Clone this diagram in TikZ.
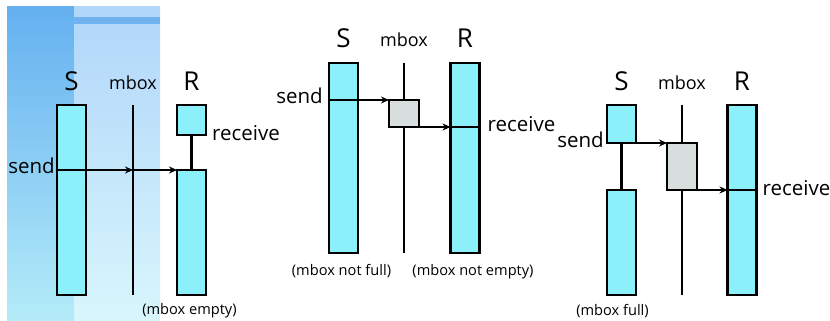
\documentclass[tikz,border=0pt]{standalone}
\usepackage{fontspec}
\setmainfont{Open Sans}
\usepackage{tikz}
\usetikzlibrary{
  arrows.meta,
  positioning
}
\definecolor{ProcCyan}{RGB}{140, 240, 250}
\definecolor{BoxGray}{RGB}{216, 222, 222}
\definecolor{SlideBlue}{RGB}{100, 176, 240}
\definecolor{SlideLight}{RGB}{180, 236, 248}
\definecolor{PaneBlue}{RGB}{176, 214, 250}
\definecolor{PaneLight}{RGB}{216, 246, 252}
\definecolor{BandBlue}{RGB}{112, 178, 240}
\tikzset{
    procbar/.style={draw, fill=ProcCyan, line width=2.2pt, minimum width=29pt, inner sep=0pt, outer sep=0pt},
    mboxcell/.style={draw, fill=BoxGray, line width=2.2pt, minimum width=30pt, inner sep=0pt, outer sep=0pt},
    mline/.style={line width=2.2pt},
    msg/.style={line width=2.2pt, -{Stealth[length=8pt, width=7pt]}},
    heading/.style={font=\fontsize{26}{30}\selectfont, inner sep=0pt},
    boxname/.style={font=\fontsize{18}{21}\selectfont, inner sep=0pt, anchor=base},
    opname/.style={font=\fontsize{20.5}{24}\selectfont, inner sep=0pt},
    note/.style={font=\fontsize{14.6}{17}\selectfont, inner sep=0pt}
}

\begin{document}
\begin{tikzpicture}[x=1pt, y=-1pt]
            \useasboundingbox (0,0) rectangle (830,321);
            \shade[top color=SlideBlue, bottom color=SlideLight] (7,7) rectangle (74,321);
            \shade[top color=PaneBlue, bottom color=PaneLight] (74,7) rectangle (160,321);
            \fill[BandBlue] (74,17) rectangle (160,24);

            \node[procbar, minimum height=190pt] (S1) at (71.5,200) {};
            \coordinate (m1t) at (133,105);
            \coordinate (m1b) at (133,295);
            \draw[mline] (m1t) -- (m1b);
            \node[procbar, minimum height=30pt] (R1top) at (191.5,120) {};
            \node[procbar, minimum height=125pt] (R1bar) at (191.5,232.5) {};
            \draw[mline] (R1top.south) -- (R1bar.north);
            \draw[mline] (S1.west |- R1bar.north) -- (S1.east |- R1bar.north);
            \draw[msg] (S1.east |- R1bar.north) -- (m1t |- R1bar.north);
            \draw[msg] (m1t |- R1bar.north) -- (R1bar.north west);
            \node[heading, above=15pt of S1, anchor=base] {S};
            \node[boxname] at ([yshift=16pt]m1t) {mbox};
            \node[heading, above=15pt of R1top, anchor=base] {R};
            \node[opname, anchor=base east] at ([xshift=-2pt, yshift=-3pt]S1.west |- R1bar.north) {send};
            \node[opname, anchor=base west] at ([xshift=6pt, yshift=-5pt]R1top.south east) {receive};
            \node[note, anchor=base] at ([xshift=-2pt, yshift=-19pt]R1bar.south) {(mbox empty)};

            \node[procbar, minimum height=190pt] (S2) at (343.5,158) {};
            \coordinate (m2t) at (404,63);
            \coordinate (m2b) at (404,253);
            \draw[mline] (m2t) -- (m2b);
            \node[mboxcell, minimum height=27pt] (M2) at (404,113.5) {};
            \node[procbar, minimum height=190pt] (R2) at (465,158) {};
            \draw[mline] (S2.west |- M2.north) -- (S2.east |- M2.north);
            \draw[msg] (S2.east |- M2.north) -- (M2.north west);
            \draw[msg] (M2.south east) -- (R2.west |- M2.south);
            \draw[mline] (R2.west |- M2.south) -- (R2.east |- M2.south);
            \node[heading, above=15pt of S2, anchor=base] {S};
            \node[boxname] at ([yshift=16pt]m2t) {mbox};
            \node[heading, above=15pt of R2, anchor=base] {R};
            \node[opname, anchor=base east] at ([xshift=-6pt, yshift=-3pt]S2.west |- M2.north) {send};
            \node[opname, anchor=base west] at ([xshift=8pt, yshift=-4pt]R2.east |- M2.south) {receive};
            \node[note, anchor=base] at ([xshift=-2pt, yshift=-22pt]S2.south) {(mbox not full)};
            \node[note, anchor=base] at ([xshift=8pt, yshift=-22pt]R2.south) {(mbox not empty)};

            \node[procbar, minimum height=38pt] (S3top) at (621.5,124) {};
            \node[procbar, minimum height=105pt] (S3bar) at (621.5,242.5) {};
            \draw[mline] (S3top.south) -- (S3bar.north);
            \coordinate (m3t) at (682,105);
            \coordinate (m3b) at (682,295);
            \draw[mline] (m3t) -- (m3b);
            \node[mboxcell, minimum height=47pt] (M3) at (682,166.5) {};
            \node[procbar, minimum height=190pt] (R3) at (742,200) {};
            \draw[msg] (S3top.south east) -- (M3.north west);
            \draw[msg] (M3.south east) -- (R3.west |- M3.south);
            \draw[mline] (R3.west |- M3.south) -- (R3.east |- M3.south);
            \node[heading, above=15pt of S3top, anchor=base] {S};
            \node[boxname] at ([yshift=16pt]m3t) {mbox};
            \node[heading, above=15pt of R3, anchor=base] {R};
            \node[opname, anchor=base east] at ([xshift=-3pt, yshift=-4pt]S3top.south west) {send};
            \node[opname, anchor=base west] at ([xshift=6pt, yshift=-5pt]R3.east |- M3.south) {receive};
            \node[note, anchor=base] at ([xshift=-9pt, yshift=-20pt]S3bar.south) {(mbox full)};
        \end{tikzpicture}
\end{document}
